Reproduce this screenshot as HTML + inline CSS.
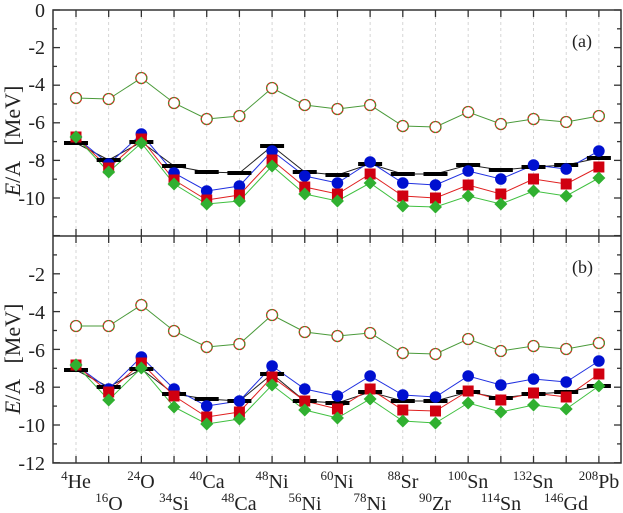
<!DOCTYPE html>
<html><head><meta charset="utf-8"><style>
html,body{margin:0;padding:0;background:#fff;}
svg{display:block;font-family:"Liberation Serif",serif;}
</style></head><body>
<svg id="s" width="623" height="513" viewBox="0 0 623 513" xmlns="http://www.w3.org/2000/svg">
<g id="grid"></g>
<g id="data"></g>
<g id="axes" stroke="#333" fill="none" stroke-width="1.5">
<rect x="53" y="10" width="568" height="453"/>
<line x1="53" y1="236" x2="621" y2="236"/>
</g>
<g id="ticks" stroke="#333" stroke-width="1.3"></g>
<g font-size="20" fill="#222" text-anchor="end">
<text x="45" y="17">0</text><text x="45" y="54">-2</text><text x="45" y="91">-4</text><text x="45" y="129">-6</text><text x="45" y="167">-8</text><text x="45" y="205">-10</text>
<text x="45" y="281">-2</text><text x="45" y="319">-4</text><text x="45" y="357">-6</text><text x="45" y="394">-8</text><text x="45" y="432">-10</text><text x="45" y="470">-12</text>
</g>
<g font-size="22" fill="#222">
<text transform="translate(20,141) rotate(-90)" text-anchor="middle" xml:space="preserve"><tspan font-style="italic">E</tspan>/A   [MeV]</text>
<text transform="translate(20,359) rotate(-90)" text-anchor="middle" xml:space="preserve"><tspan font-style="italic">E</tspan>/A   [MeV]</text>
<text x="572" y="47" font-size="18">(a)</text>
<text x="572" y="273" font-size="18">(b)</text>
</g>
<g font-size="20" fill="#222" text-anchor="middle">
<text x="76" y="488"><tspan font-size="13" dy="-8">4</tspan><tspan dy="8">He</tspan></text>
<text x="109" y="510"><tspan font-size="13" dy="-8">16</tspan><tspan dy="8">O</tspan></text>
<text x="141" y="488"><tspan font-size="13" dy="-8">24</tspan><tspan dy="8">O</tspan></text>
<text x="174" y="510"><tspan font-size="13" dy="-8">34</tspan><tspan dy="8">Si</tspan></text>
<text x="207" y="488"><tspan font-size="13" dy="-8">40</tspan><tspan dy="8">Ca</tspan></text>
<text x="239" y="510"><tspan font-size="13" dy="-8">48</tspan><tspan dy="8">Ca</tspan></text>
<text x="272" y="488"><tspan font-size="13" dy="-8">48</tspan><tspan dy="8">Ni</tspan></text>
<text x="305" y="510"><tspan font-size="13" dy="-8">56</tspan><tspan dy="8">Ni</tspan></text>
<text x="337" y="488"><tspan font-size="13" dy="-8">60</tspan><tspan dy="8">Ni</tspan></text>
<text x="370" y="510"><tspan font-size="13" dy="-8">78</tspan><tspan dy="8">Ni</tspan></text>
<text x="403" y="488"><tspan font-size="13" dy="-8">88</tspan><tspan dy="8">Sr</tspan></text>
<text x="435" y="510"><tspan font-size="13" dy="-8">90</tspan><tspan dy="8">Zr</tspan></text>
<text x="468" y="488"><tspan font-size="13" dy="-8">100</tspan><tspan dy="8">Sn</tspan></text>
<text x="501" y="510"><tspan font-size="13" dy="-8">114</tspan><tspan dy="8">Sn</tspan></text>
<text x="533" y="488"><tspan font-size="13" dy="-8">132</tspan><tspan dy="8">Sn</tspan></text>
<text x="566" y="510"><tspan font-size="13" dy="-8">146</tspan><tspan dy="8">Gd</tspan></text>
<text x="599" y="488"><tspan font-size="13" dy="-8">208</tspan><tspan dy="8">Pb</tspan></text>
</g>
</svg>
<script>
var NS="http://www.w3.org/2000/svg";
function el(p,t,a){var e=document.createElementNS(NS,t);for(var k in a)e.setAttribute(k,a[k]);p.appendChild(e);return e;}
var X=[];for(var i=0;i<17;i++)X.push(76+i*32.68);
var grid=document.getElementById('grid'),ticks=document.getElementById('ticks'),data=document.getElementById('data');
X.forEach(function(x){
 el(grid,'line',{x1:x,y1:10,x2:x,y2:463,stroke:'#ccc','stroke-width':0.8,'stroke-dasharray':'3,3'});
 el(ticks,'line',{x1:x,y1:10,x2:x,y2:17});
 el(ticks,'line',{x1:x,y1:229,x2:x,y2:243});
 el(ticks,'line',{x1:x,y1:456,x2:x,y2:463});
});
[[10,18.8,0,-12],[236,18.9,-1,-12]].forEach(function(p){
 for(var v=p[2];v>=p[3];v--){var y=p[0]+p[1]*(-v);var L=(v%2==0)?7:4;
  el(ticks,'line',{x1:53,y1:y,x2:53+L,y2:y});el(ticks,'line',{x1:621,y1:y,x2:621-L,y2:y});}
});
var P=[
{open:[98,99,78,103,119,116,88,105,109,105,126,127,112,124,119,122,116],
 exp:[143,160,142,166,172,173,146,172,175,164,174,174,165,170,167,165,158],
 b:[137,164,134,173,191,186,151,176,183,162,183,185,171,179,165,169,151],
 r:[137,168,139,180,200,195,160,187,194,174,196,198,185,194,179,184,167],
 g:[137,172,143,184,204,201,166,194,201,183,206,207,196,204,191,196,178]},
{open:[326,326,305,331,347,344,315,332,336,333,353,354,339,351,346,349,343],
 exp:[370,387,369,394,399,401,374,401,403,392,401,401,392,398,394,392,386],
 b:[365,389,357,389,406,401,366,389,396,376,395,397,376,385,379,382,361],
 r:[365,392,363,396,417,412,377,401,409,389,410,411,391,400,393,397,374],
 g:[365,400,368,407,424,419,385,410,418,399,421,423,403,412,405,409,386]}];
function pts(a){return a.map(function(y,i){return X[i]+','+y;}).join(' ');}
P.forEach(function(d){
 el(data,'polyline',{points:pts(d.open),fill:'none',stroke:'#4a9a3a','stroke-width':1});
 el(data,'polyline',{points:pts(d.exp),fill:'none',stroke:'#222','stroke-width':1});
 el(data,'polyline',{points:pts(d.b),fill:'none',stroke:'#2030e0','stroke-width':1});
 el(data,'polyline',{points:pts(d.r),fill:'none',stroke:'#e02020','stroke-width':1});
 el(data,'polyline',{points:pts(d.g),fill:'none',stroke:'#40c040','stroke-width':1});
 d.open.forEach(function(y,i){el(data,'circle',{cx:X[i],cy:y,r:5.5,fill:'#fff',stroke:'#d03020','stroke-width':1.3});
   el(data,'circle',{cx:X[i],cy:y,r:5.5,fill:'none',stroke:'#30a030','stroke-width':1.1,'stroke-dasharray':'2,2'});});
 d.exp.forEach(function(y,i){el(data,'rect',{x:X[i]-12,y:y-2,width:24,height:4,fill:'#000'});});
 d.b.forEach(function(y,i){el(data,'circle',{cx:X[i],cy:y,r:5.8,fill:'#0010d0'});});
 d.r.forEach(function(y,i){el(data,'rect',{x:X[i]-5.5,y:y-5.5,width:11,height:11,fill:'#d00010'});});
 d.g.forEach(function(y,i){el(data,'polygon',{points:(X[i])+','+(y-6.5)+' '+(X[i]+6.5)+','+y+' '+X[i]+','+(y+6.5)+' '+(X[i]-6.5)+','+y,fill:'#30b030'});});
});
</script>
</body></html>
